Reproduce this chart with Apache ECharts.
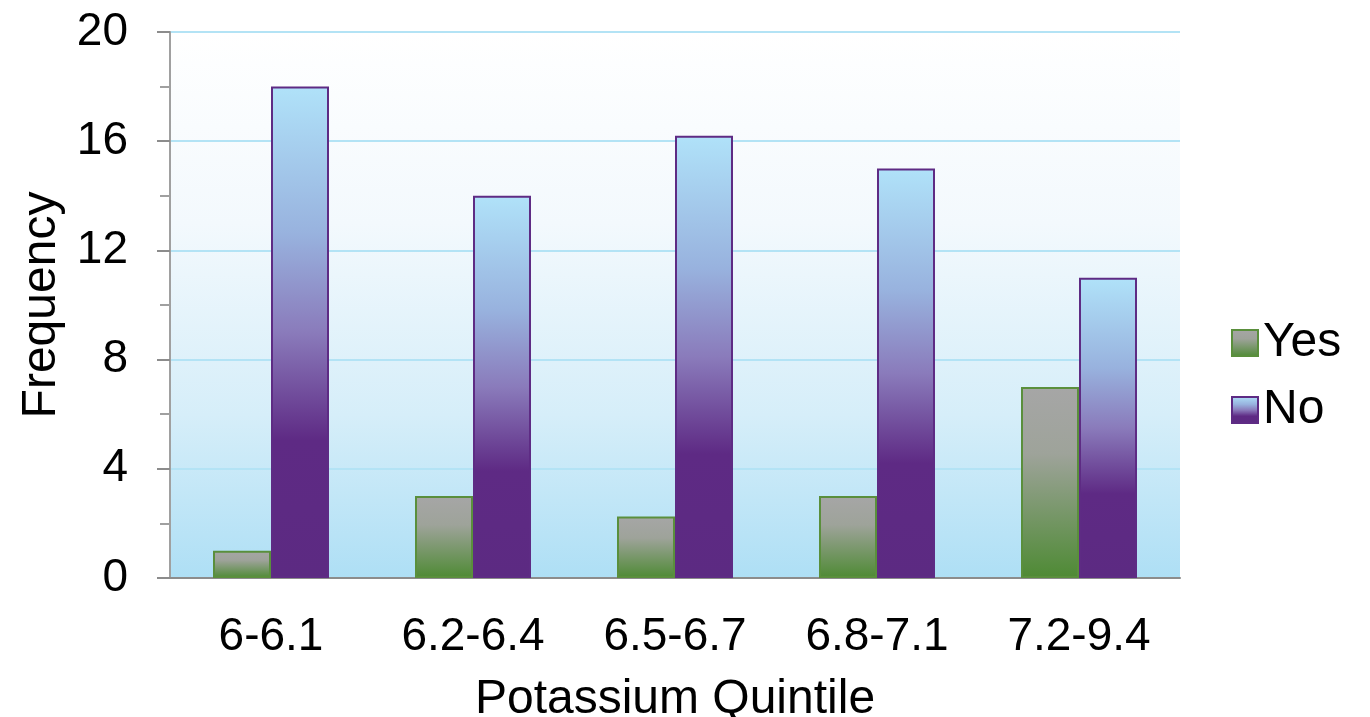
<!DOCTYPE html>
<html><head><meta charset="utf-8">
<script src="https://cdn.jsdelivr.net/npm/echarts@6/dist/echarts.min.js"></script>
<style>html,body{margin:0;padding:0;background:#fff}#c{width:1370px;height:717px}</style>
</head><body><div id="c"></div>
<script>
const categories = ['6-6.1', '6.2-6.4', '6.5-6.7', '6.8-7.1', '7.2-9.4'];
const yesValues = [1, 3, 2.25, 3, 7];
const noValues = [18, 14, 16.2, 15, 11];
const seriesNames = ['Yes', 'No'];

const chart = echarts.init(document.getElementById('c'));
const G = echarts.graphic;
const font = 'Liberation Sans, Arial, sans-serif';
chart.setOption({
  animation: false,
  grid: { left: 170, right: 190, top: 32, bottom: 139, show: true, borderWidth: 0,
    containLabel: false, outerBoundsMode: 'none',
    backgroundColor: new G.LinearGradient(0, 0, 0, 1, [
      { offset: 0, color: '#ffffff' }, { offset: 0.35, color: '#f3f9fd' },
      { offset: 0.7, color: '#d6eef9' }, { offset: 1, color: '#aedff5' }]) },
  legend: {
    orient: 'vertical', left: 1226, top: 314, itemWidth: 26, itemHeight: 26, itemGap: 19,
    icon: 'rect',
    textStyle: { fontFamily: font, fontSize: 48, color: '#000', padding: [0, 0, 0, 0] },
    data: seriesNames
  },
  xAxis: {
    type: 'category', data: categories,
    axisLine: { lineStyle: { color: '#8c8c8c', width: 2 } },
    axisTick: { show: false },
    axisLabel: { fontFamily: font, fontSize: 46, color: '#000', margin: 36 },
    name: 'Potassium Quintile', nameLocation: 'middle', nameGap: 98,
    nameTextStyle: { fontFamily: font, fontSize: 48, color: '#000' }
  },
  yAxis: {
    type: 'value', min: 0, max: 20, interval: 4,
    axisLine: { show: true, lineStyle: { color: '#a0a0a0', width: 2 } },
    axisTick: { show: true, length: 13, lineStyle: { color: '#8c8c8c', width: 2 } },
    minorTick: { show: true, splitNumber: 2, length: 10, lineStyle: { color: '#a0a0a0', width: 2 } },
    splitLine: { lineStyle: { color: '#b3e3f5', width: 2 } },
    axisLabel: { fontFamily: font, fontSize: 46, color: '#000', margin: 42 },
    name: 'Frequency', nameLocation: 'middle', nameGap: 103,
    nameTextStyle: { fontFamily: font, fontSize: 48, color: '#000' }
  },
  series: [
    { name: seriesNames[0], type: 'bar', data: yesValues, barWidth: 58, barGap: '0%',
      itemStyle: { borderColor: '#5a8f3c', borderWidth: 2,
        color: new G.LinearGradient(0, 0, 0, 1, [
          { offset: 0, color: '#a6a6a6' }, { offset: 0.35, color: '#9ea39a' },
          { offset: 1, color: '#4e8a34' }]) } },
    { name: seriesNames[1], type: 'bar', data: noValues, barWidth: 58, barGap: '0%',
      itemStyle: { borderColor: '#5e2b84', borderWidth: 2,
        color: new G.LinearGradient(0, 0, 0, 1, [
          { offset: 0, color: '#b0e2f9' }, { offset: 0.3, color: '#98b2de' },
          { offset: 0.5, color: '#8a7bbb' }, { offset: 0.72, color: '#5e2a84' },
          { offset: 1, color: '#5c2a82' }]) } }
  ]
});
</script></body></html>
